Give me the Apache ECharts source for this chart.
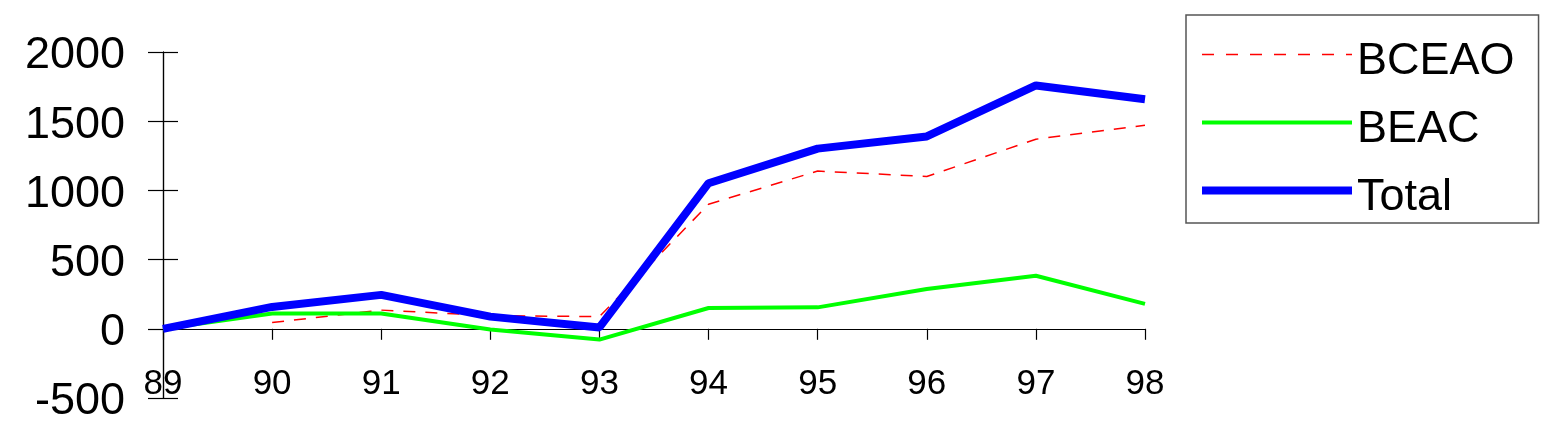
<!DOCTYPE html>
<html>
<head>
<meta charset="utf-8">
<script src="https://cdn.jsdelivr.net/npm/echarts@6/dist/echarts.min.js"></script>
<style>
html,body{margin:0;padding:0;background:#fff;}
#chart{width:1549px;height:438px;}
</style>
</head>
<body>
<div id="chart"></div>
<script>
const categories = ['89','90','91','92','93','94','95','96','97','98'];
const bceao = [null, 45, 135, 95, 88, 900, 1140, 1100, 1370, 1470];
const beac = [0, 110, 110, -5, -78, 150, 155, 288, 383, 180];
const total = [0, 158, 245, 88, 10, 1052, 1302, 1390, 1758, 1658];
const yTicks = {min: -500, max: 2000, interval: 500};

const chart = echarts.init(document.getElementById('chart'));
chart.setOption({
  animation: false,
  backgroundColor: '#ffffff',
  grid: {left: 163, right: 404, top: 52, bottom: 40, containLabel: false, outerBoundsMode: 'none'},
  legend: {
    orient: 'vertical',
    left: 1186,
    top: 15,
    padding: [10, 24, 3, 12],
    itemGap: 9,
    itemWidth: 150,
    itemHeight: 14,
    borderColor: '#555555',
    borderWidth: 1.5,
    backgroundColor: '#ffffff',
    itemStyle: {opacity: 0},
    formatter: function (name) { return '{t|' + name + '}'; },
    textStyle: {
      fontFamily: 'Liberation Sans, Arial, sans-serif', fontSize: 45, color: '#000',
      rich: {t: {fontFamily: 'Liberation Sans, Arial, sans-serif', fontSize: 45, color: '#000', lineHeight: 50, padding: [14, 0, 0, 0]}}
    },
    data: [
      {name: 'BCEAO', lineStyle: {color: '#ff0000', width: 1.5, type: [12, 12]}},
      {name: 'BEAC', lineStyle: {color: '#00ff00', width: 4}},
      {name: 'Total', lineStyle: {color: '#0000ff', width: 8}}
    ]
  },
  xAxis: {
    type: 'category',
    data: categories,
    boundaryGap: false,
    axisLine: {onZero: true, onZeroAxisIndex: 0, lineStyle: {color: '#000', width: 1.2}},
    axisTick: {show: true, inside: false, length: 11, lineStyle: {color: '#000', width: 1.2}},
    axisLabel: {
      margin: -31,
      fontFamily: 'Liberation Sans Narrow, Arial Narrow, Liberation Sans, sans-serif',
      fontSize: 35,
      color: '#000'
    },
    splitLine: {show: false}
  },
  yAxis: [
    {
      type: 'value',
      min: yTicks.min, max: yTicks.max, interval: yTicks.interval,
      axisLine: {show: true, onZero: false, lineStyle: {color: '#000', width: 1.2}},
      axisTick: {show: true, inside: false, length: 15, lineStyle: {color: '#000', width: 1.2}},
      axisLabel: {
        margin: 38, color: '#000',
        fontFamily: 'Liberation Sans, Arial, sans-serif', fontSize: 45,
        formatter: function (v) { return '{v|' + v + '}'; },
        rich: {v: {fontFamily: 'Liberation Sans, Arial, sans-serif', fontSize: 45, color: '#000', lineHeight: 50, padding: [8, 0, 0, 0]}}
      },
      splitLine: {show: false}
    },
    {
      type: 'value',
      position: 'left',
      min: yTicks.min, max: yTicks.max, interval: yTicks.interval,
      axisLine: {show: true, onZero: false, lineStyle: {color: '#000', width: 1.2}},
      axisTick: {show: true, inside: true, length: 15, lineStyle: {color: '#000', width: 1.2}},
      axisLabel: {show: false},
      splitLine: {show: false}
    }
  ],
  series: [
    {
      name: 'BCEAO', type: 'line', data: bceao, symbol: 'none', connectNulls: false,
      lineStyle: {color: '#ff0000', width: 1.5, type: [12, 10]},
      itemStyle: {color: '#ff0000'}, z: 2
    },
    {
      name: 'BEAC', type: 'line', data: beac, symbol: 'none',
      lineStyle: {color: '#00ff00', width: 4},
      itemStyle: {color: '#00ff00'}, z: 3
    },
    {
      name: 'Total', type: 'line', data: total, symbol: 'none',
      lineStyle: {color: '#0000ff', width: 8},
      itemStyle: {color: '#0000ff'}, z: 4
    }
  ]
});
</script>
</body>
</html>
